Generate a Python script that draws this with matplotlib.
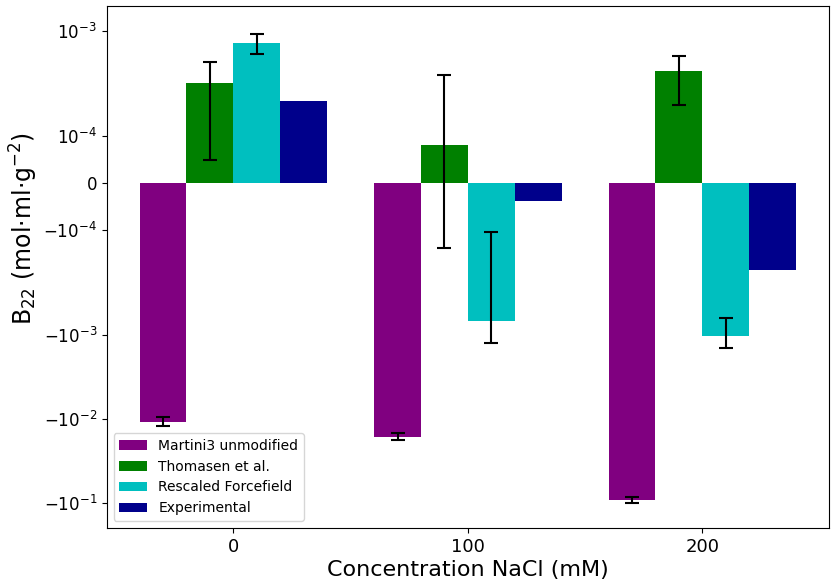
import numpy as np
import matplotlib
matplotlib.use("Agg")
import matplotlib.pyplot as plt

# data (B22 values, mol·ml·g^-2)
conc = [0, 100, 200]
labels = ['Martini3 unmodified', 'Thomasen et al.', 'Rescaled Forcefield', 'Experimental']
martini = [-1.08e-2, -1.62e-2, -9.2e-2]
martini_err = [1.3e-3, 1.5e-3, 8.2e-3]
thomasen = [2.4e-4, 8.1e-5, 3.36e-4]
thomasen_err = [1.9e-4, 2.2e-4, 1.7e-4]
rescaled = [7.2e-4, -6.75e-4, -1.03e-3]
rescaled_err = [1.9e-4, 5.7e-4, 4.0e-4]
experimental = [1.75e-4, -3.8e-5, -1.87e-4]

fig = plt.figure(figsize=(8.34, 5.84), dpi=100)
ax = fig.add_axes([0.128, 0.096, 0.866, 0.894])

x = np.array(conc)
w = 20
series = [martini, thomasen, rescaled, experimental]
errs = [martini_err, thomasen_err, rescaled_err, None]
colors = ['purple', 'green', 'c', 'darkblue']
offsets = [-30, -10, 10, 30]

for vals, err, col, off, lab in zip(series, errs, colors, offsets, labels):
    ax.bar(x + off, vals, w, yerr=err, color=col, label=lab, capsize=5,
           error_kw=dict(ecolor='black', elinewidth=1.5, capthick=1.5))

ax.set_yscale('symlog', linthresh=2e-4)
ax.set_yticks([-1e-1, -1e-2, -1e-3, -1e-4, 0, 1e-4, 1e-3])
ax.set_ylim(-0.198, 1.98e-3)
ax.set_xticks(conc)
ax.tick_params(axis='x', labelsize=13)
ax.tick_params(axis='y', labelsize=12)

ax.set_xlabel('Concentration NaCl (mM)', fontsize=16, labelpad=3)
ax.set_ylabel('B$_{22}$ (mol·ml·g$^{-2}$)', fontsize=17)
ax.yaxis.set_label_coords(-0.092, 0.573)
ax.legend(loc='lower left', fontsize=10)

fig.savefig('out.png', dpi=100)
